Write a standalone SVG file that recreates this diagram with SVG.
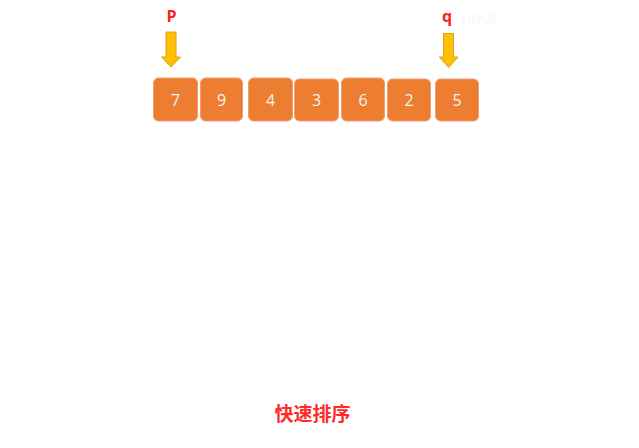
<svg xmlns="http://www.w3.org/2000/svg" width="639" height="448" viewBox="0 0 639 448">
<defs>
<style>
.box{fill:#ED7D31;stroke:#F0A070;stroke-width:1}
.num{font-family:"Open Sans","Liberation Sans",sans-serif;font-size:16px;fill:#F4F4F4;text-anchor:middle}
.lbl{font-family:"Open Sans","Liberation Sans",sans-serif;font-size:16px;font-weight:bold;fill:#FF2020;text-anchor:middle}
.arrow{fill:#FFC000;stroke:#E0A020;stroke-width:1}
.title{font-family:"Noto Sans CJK SC","Liberation Sans",sans-serif;font-size:19px;font-weight:bold;fill:#FF2A2A;text-anchor:middle}
</style>
</defs>
<rect width="639" height="448" fill="#FFFFFF"/>
<g id="node-7"><rect class="box" x="153.5" y="78" width="44" height="43" rx="5"/><text class="num" x="175.5" y="105.5">7</text></g>
<g id="node-9"><rect class="box" x="200.5" y="78" width="42" height="43" rx="5"/><text class="num" x="221.5" y="105.5">9</text></g>
<g id="node-4"><rect class="box" x="248.5" y="78" width="44" height="43" rx="5"/><text class="num" x="270.5" y="105.5">4</text></g>
<g id="node-3"><rect class="box" x="294.5" y="79" width="44" height="42" rx="5"/><text class="num" x="316.5" y="106">3</text></g>
<g id="node-6"><rect class="box" x="341.5" y="78" width="43" height="43" rx="5"/><text class="num" x="363" y="105.5">6</text></g>
<g id="node-2"><rect class="box" x="387.5" y="79" width="43" height="42" rx="5"/><text class="num" x="409" y="106">2</text></g>
<g id="node-5"><rect class="box" x="435.5" y="79" width="43" height="42" rx="5"/><text class="num" x="457" y="106">5</text></g>
<g id="pointer-p">
<text class="lbl" x="171.5" y="22">P</text>
</g>
<g id="pointer-q">
<text class="lbl" x="447" y="22">q</text>
<text x="462" y="23" font-family="'Open Sans','Liberation Sans',sans-serif" font-size="15" fill="#F6F6F6">pivot</text>
</g>
<g id="connectors">
<path class="arrow" d="M166,32 H176 V57 H180.5 L171,67 L161.5,57 H166 Z"/>
<path class="arrow" d="M443.5,33.5 H453.5 V57 H458 L448.7,67.5 L439.3,57 H443.5 Z"/>
</g>
<text class="title" x="312.5" y="421">快速排序</text>
</svg>
